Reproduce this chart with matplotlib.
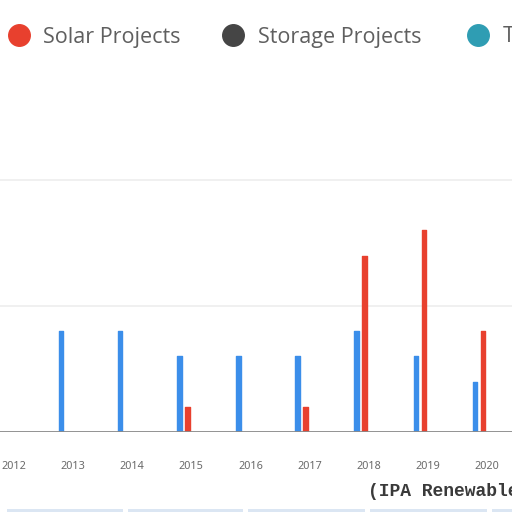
import matplotlib
matplotlib.use("Agg")
import matplotlib.pyplot as plt
from matplotlib.patches import Rectangle
from matplotlib.lines import Line2D
import numpy as np

years = [2012, 2013, 2014, 2015, 2016, 2017, 2018, 2019, 2020]
wind_projects = [0, 4, 4, 3, 3, 3, 4, 3, 2]
solar_projects = [0, 0, 0, 1, 0, 1, 7, 8, 4]
storage_projects = [0, 0, 0, 0, 0, 0, 0, 0, 0]
teal_projects = [0, 0, 0, 0, 0, 0, 0, 0, 0]
legend_labels = ["Solar Projects", "Storage Projects", "T"]
footer_text = "(IPA Renewable"

c_blue = "#3b8eea"
c_red = "#e8402e"
c_dark = "#454545"
c_teal = "#2f9db3"

fig = plt.figure(figsize=(5.12, 5.12), dpi=100)
ax = fig.add_axes([0.0, 80 / 512, 1.0, 432 / 512])

x = np.array(years, dtype=float)
slot = 8 / 59.1
bw = 5.5 / 59.1
series = [(wind_projects, c_blue), (solar_projects, c_red),
          (storage_projects, c_dark), (teal_projects, c_teal)]
for i, (vals, col) in enumerate(series):
    off = (i - 1.5) * slot
    v = np.array(vals, dtype=float)
    mask = v > 0
    ax.bar(x[mask] + off, v[mask], width=bw * 0.8, color=col,
           edgecolor=col, linewidth=1.0, joinstyle="round", zorder=3)

ax.set_xlim(2011.763, 2011.763 + 512 / 59.1)
ax.set_ylim(0, 432 / 25.2)
for g in [5, 10]:
    ax.axhline(g, color="#ededed", lw=1.2, zorder=1)
ax.axhline(0, color="#8a8a8a", lw=1.3, zorder=4)
for s in ax.spines.values():
    s.set_visible(False)
ax.set_yticks([])
ax.set_xticks(years)
ax.set_xticklabels([str(y) for y in years], fontsize=7.8, color="#6a6a6a",
                   family="Noto Sans")
ax.tick_params(axis="x", length=0, pad=21)

# legend
leg_items = [(19, c_red, 43, legend_labels[0]),
             (233, c_dark, 258, legend_labels[1]),
             (478, c_teal, 503, legend_labels[2])]
for cx, col, tx, lab in leg_items:
    fig.add_artist(Line2D([cx / 512], [1 - 35 / 512], marker="o", markersize=15.5,
                          color=col, linestyle="none", transform=fig.transFigure))
    fig.text(tx / 512, 1 - 37 / 512, lab, fontsize=15.5, color="#5f5f5f",
             va="center", ha="left", family="Open Sans")

fig.text(368 / 512, 1 - 492 / 512, footer_text, fontsize=13, color="#3a3a3a",
         family="Liberation Mono", fontweight="bold", va="center", ha="left")

for x0, x1 in [(7, 123), (128, 243), (248, 365), (370, 487), (492, 512)]:
    fig.add_artist(Rectangle((x0 / 512, 0), (x1 - x0) / 512, 3 / 512,
                             transform=fig.transFigure, facecolor="#dbe6f3",
                             edgecolor="none"))

fig.savefig("out.png", dpi=100)
